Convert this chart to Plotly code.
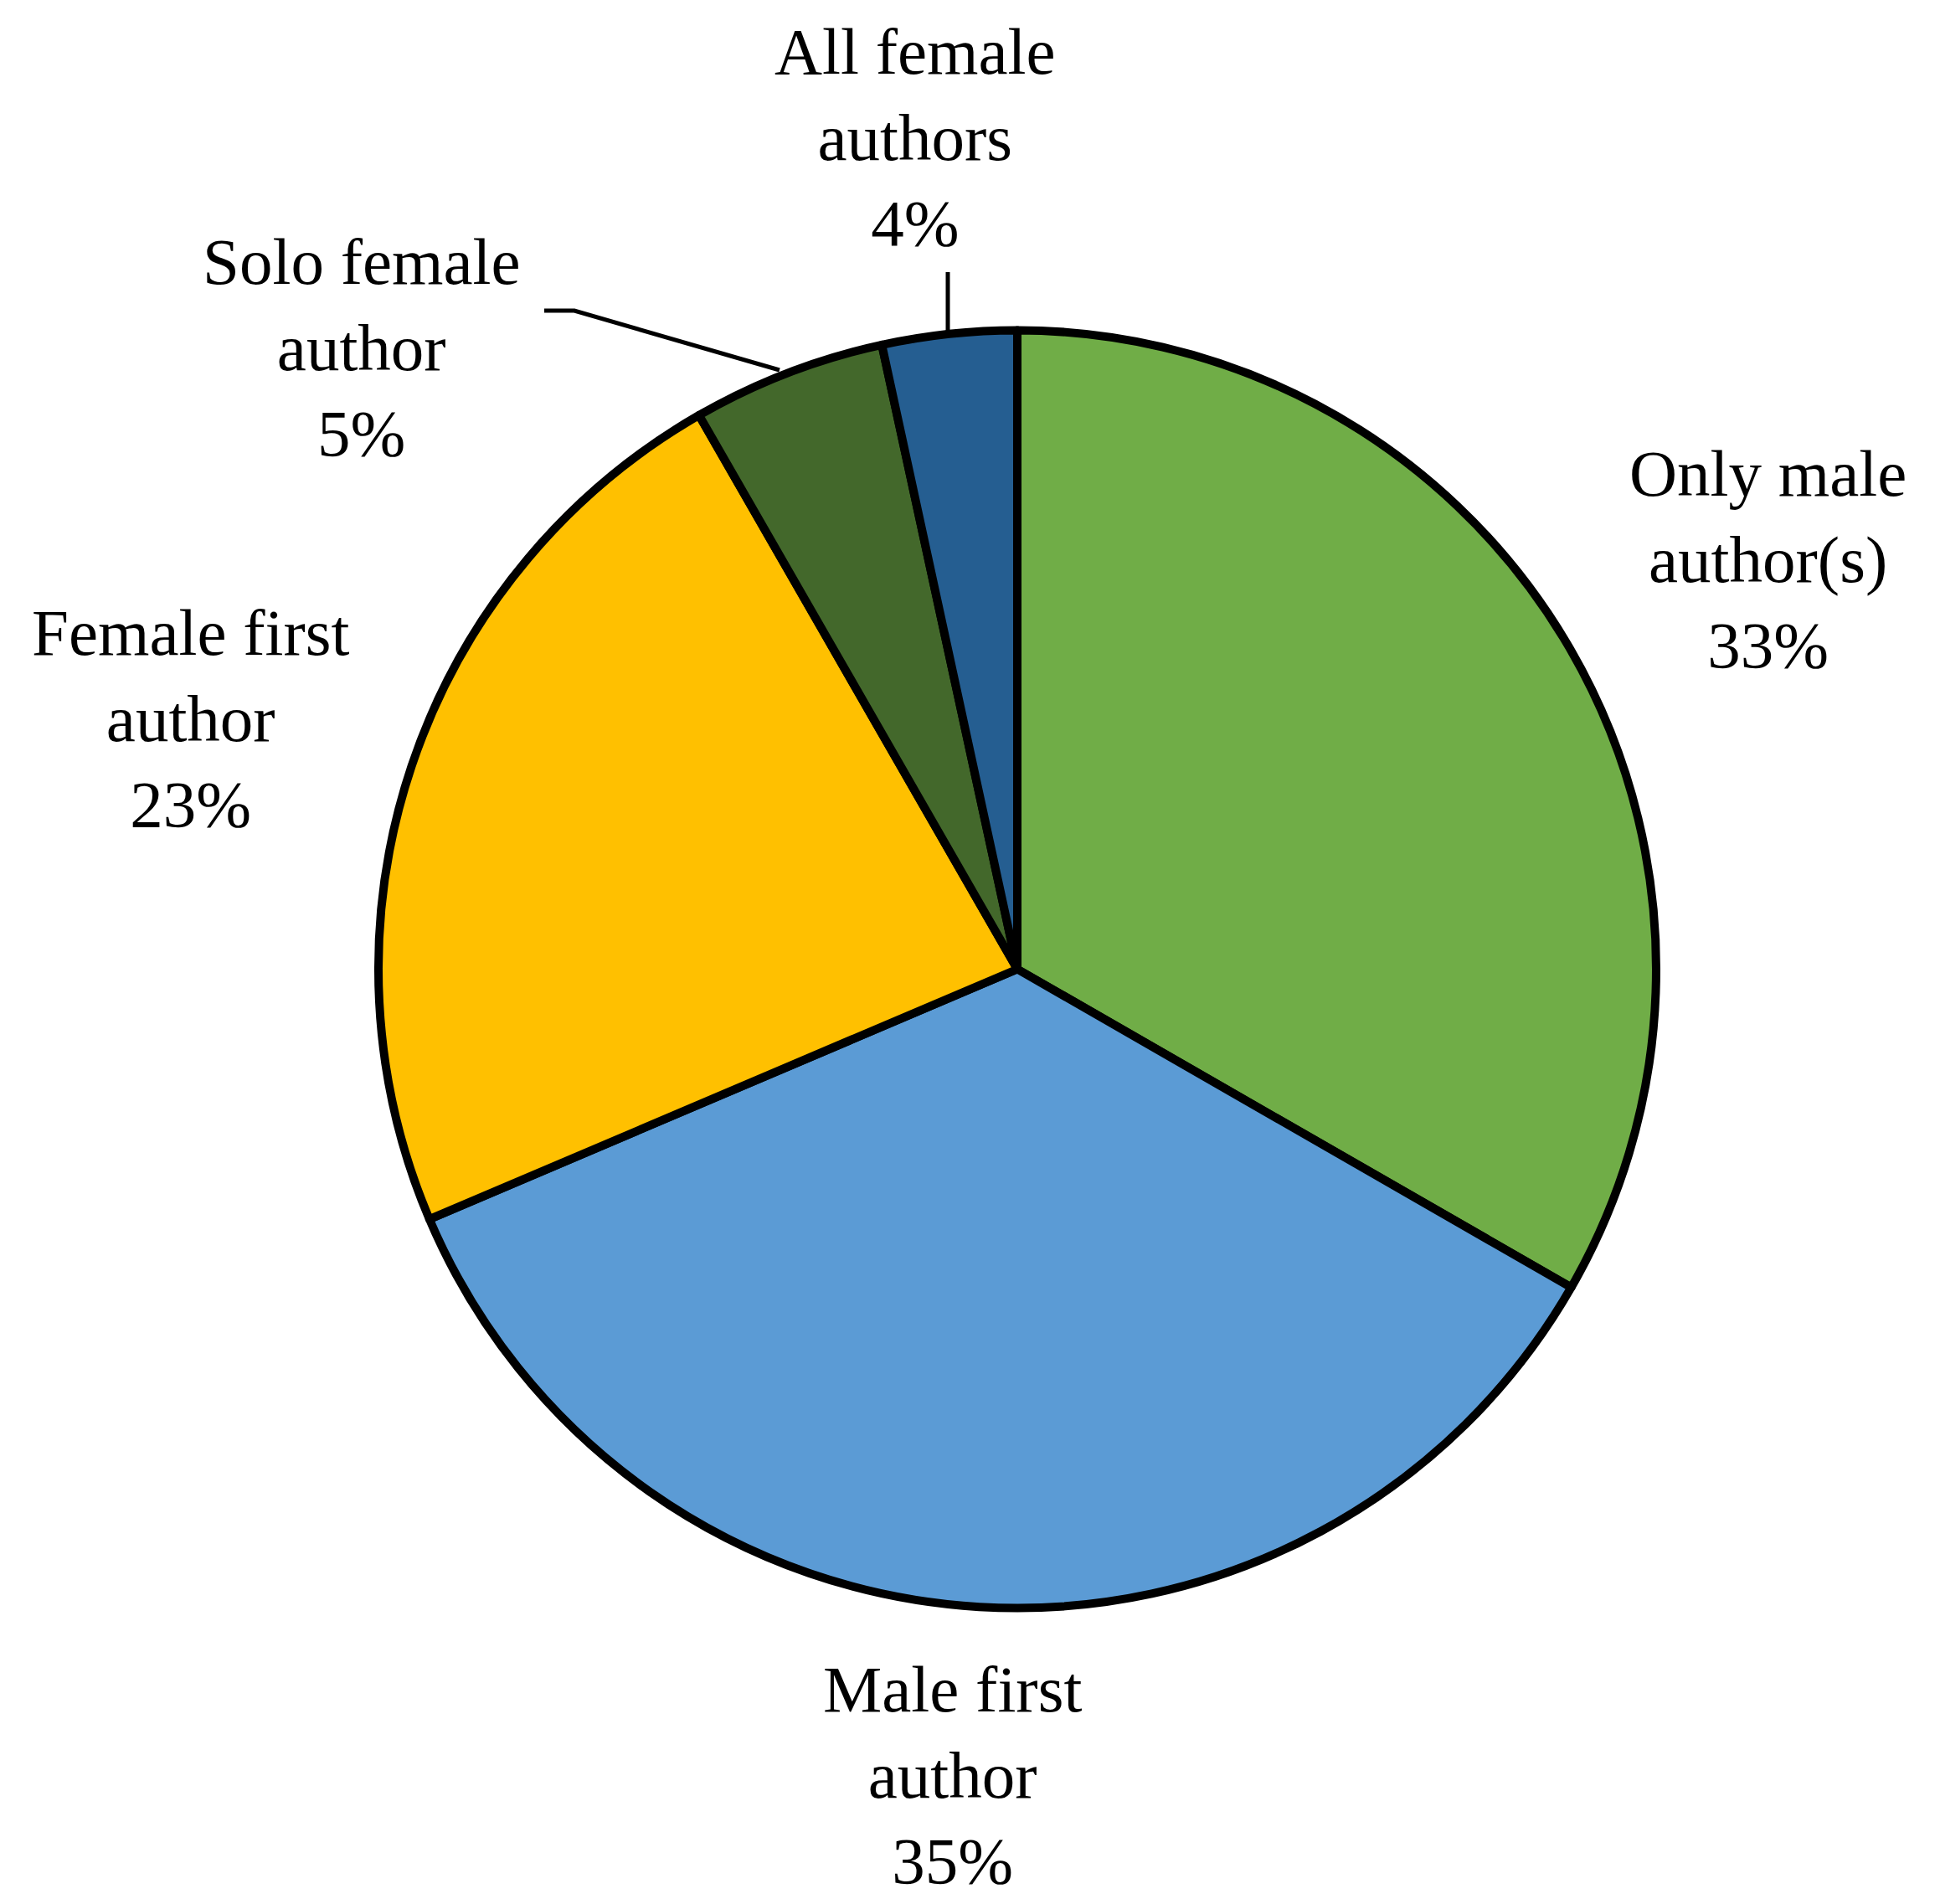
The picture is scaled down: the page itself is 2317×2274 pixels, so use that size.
import plotly.graph_objects as go

W, H = 2317, 2274

labels = ["Only male author(s)", "Male first author", "Female first author",
          "Solo female author", "All female authors"]
values = [33.3, 35.3, 23.1, 4.9, 3.4]
pct_text = ["33%", "35%", "23%", "5%", "4%"]
label_lines = [["Only male", "author(s)"], ["Male first", "author"],
               ["Female first", "author"], ["Solo female", "author"],
               ["All female", "authors"]]
colors = ["#70AD47", "#5B9BD5", "#FFC000", "#43682B", "#255E91"]

# pie geometry (pixels)
cx, cy, r = 1215, 1157.5, 763

def px(x):
    return x / W

def py(y):
    return 1 - y / H

fig = go.Figure(go.Pie(
    labels=labels, values=values, sort=False, direction="clockwise", rotation=0,
    marker=dict(colors=colors, line=dict(color="black", width=10)),
    textinfo="none", hoverinfo="skip", showlegend=False,
    domain=dict(x=[px(cx - r), px(cx + r)], y=[py(cy + r), py(cy - r)]),
))

# label placement (pixel centres)
label_pos = [(2111, 668), (1137, 2120), (228, 858), (432, 415), (1093, 164)]
for lines, pct, (x, y) in zip(label_lines, pct_text, label_pos):
    fig.add_annotation(
        x=px(x), y=py(y), xref="paper", yref="paper",
        text="<br>".join(lines + [pct]), showarrow=False,
        xanchor="center", yanchor="middle", align="center",
        font=dict(family="Liberation Serif", size=79, color="black"),
    )

# leader lines
leaders = [
    [(1132, 325), (1132, 396)],
    [(650, 371), (686, 371), (931, 442)],
]
for pts in leaders:
    path = "M " + " L ".join(f"{px(x)},{py(y)}" for x, y in pts)
    fig.add_shape(type="path", path=path, xref="paper", yref="paper",
                  line=dict(color="black", width=5))

fig.update_layout(
    width=W, height=H, margin=dict(l=0, r=0, t=0, b=0),
    paper_bgcolor="white", plot_bgcolor="white",
)

fig.write_html("out.html", config={"displayModeBar": False},
               post_script="document.body.style.margin='0';document.body.style.padding='0';")
